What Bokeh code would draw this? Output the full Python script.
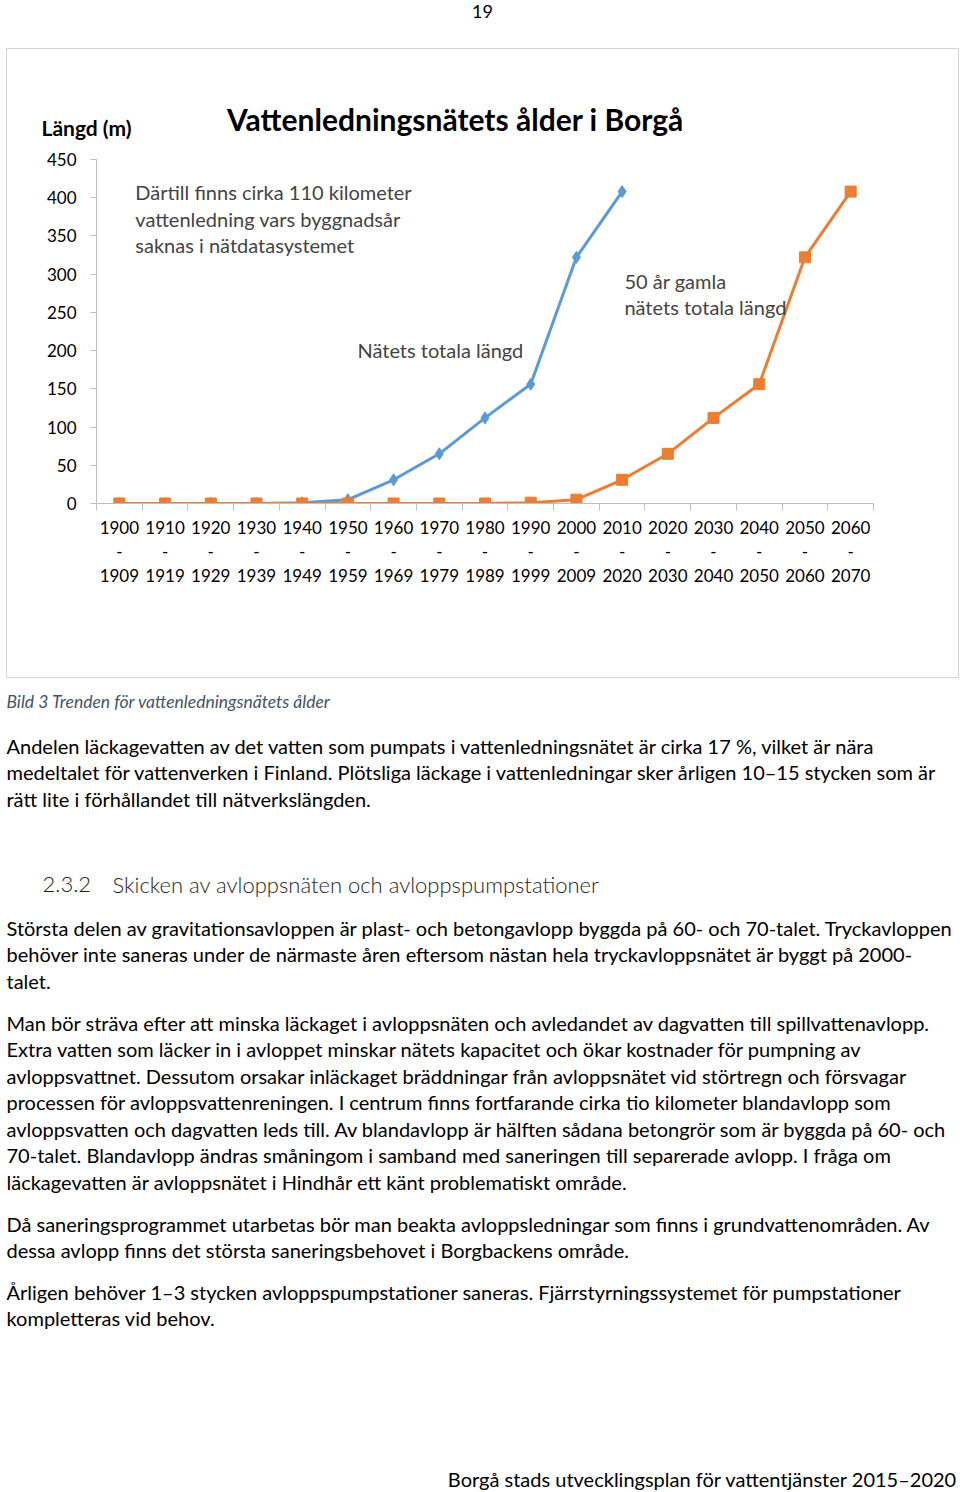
from bokeh.plotting import figure
from bokeh.layouts import column
from bokeh.models import Range1d, FixedTicker, Label
from bokeh.core.properties import value
from bokeh.embed import file_html
from bokeh.resources import INLINE

FONT = "Lato"

# ---------------- data ----------------
period_start = ["1900", "1910", "1920", "1930", "1940", "1950", "1960", "1970", "1980",
                "1990", "2000", "2010", "2020", "2030", "2040", "2050", "2060"]
period_end = ["1909", "1919", "1929", "1939", "1949", "1959", "1969", "1979", "1989",
              "1999", "2009", "2020", "2030", "2040", "2050", "2060", "2070"]
total_length = [0, 0, 0, 0, 1, 5, 31, 65, 112, 156, 322, 408]          # Nätets totala längd
old_50_length = [0, 0, 0, 0, 0, 0, 0, 0, 0, 1, 5, 31, 65, 112, 156, 322, 408]  # 50 år gamla
y_ticks = [0, 50, 100, 150, 200, 250, 300, 350, 400, 450]

chart_title = "Vattenledningsnätets ålder i Borgå"
y_title = "Längd (m)"
note_lines = ["Därtill finns cirka 110 kilometer", "vattenledning vars byggnadsår", "saknas i nätdatasystemet"]
total_label = "Nätets totala längd"
old_label = ["50 år gamla", "nätets totala längd"]

page_number = "19"
caption = "Bild 3 Trenden för vattenledningsnätets ålder"
para1 = ["Andelen läckagevatten av det vatten som pumpats i vattenledningsnätet är cirka 17 %, vilket är nära",
         "medeltalet för vattenverken i Finland. Plötsliga läckage i vattenledningar sker årligen 10–15 stycken som är",
         "rätt lite i förhållandet till nätverkslängden."]
heading_num = "2.3.2"
heading_text = "Skicken av avloppsnäten och avloppspumpstationer"
para2 = ["Största delen av gravitationsavloppen är plast- och betongavlopp byggda på 60- och 70-talet. Tryckavloppen",
         "behöver inte saneras under de närmaste åren eftersom nästan hela tryckavloppsnätet är byggt på 2000-",
         "talet."]
para3 = ["Man bör sträva efter att minska läckaget i avloppsnäten och avledandet av dagvatten till spillvattenavlopp.",
         "Extra vatten som läcker in i avloppet minskar nätets kapacitet och ökar kostnader för pumpning av",
         "avloppsvattnet. Dessutom orsakar inläckaget bräddningar från avloppsnätet vid störtregn och försvagar",
         "processen för avloppsvattenreningen. I centrum finns fortfarande cirka tio kilometer blandavlopp som",
         "avloppsvatten och dagvatten leds till. Av blandavlopp är hälften sådana betongrör som är byggda på 60- och",
         "70-talet. Blandavlopp ändras småningom i samband med saneringen till separerade avlopp. I fråga om",
         "läckagevatten är avloppsnätet i Hindhår ett känt problematiskt område."]
para4 = ["Då saneringsprogrammet utarbetas bör man beakta avloppsledningar som finns i grundvattenområden. Av",
         "dessa avlopp finns det största saneringsbehovet i Borgbackens område."]
para5 = ["Årligen behöver 1–3 stycken avloppspumpstationer saneras. Fjärrstyrningssystemet för pumpstationer",
         "kompletteras vid behov."]
footer = "Borgå stads utvecklingsplan för vattentjänster 2015–2020"

BLUE = "#5B9BD5"
ORANGE = "#ED7D31"
AXIS = "#BFBFBF"
BODY = "20px"


def blank(width, height, x0, x1, ytop, ybot):
    f = figure(width=width, height=height, x_range=Range1d(x0, x1), y_range=Range1d(ybot, ytop),
               x_axis_type=None, y_axis_type=None, output_backend="svg", toolbar_location=None,
               min_border=0, min_border_left=0, min_border_right=0, min_border_top=0,
               min_border_bottom=0, outline_line_color=None, frame_align=False)
    f.grid.visible = False
    return f


# ---------------- top strip (page number) ----------------
top = blank(960, 48, 0, 960, 0, 48)
top.text(x=[482], y=[11], text=[page_number], text_font=value(FONT), text_font_size="18px",
         text_align="center", text_baseline="middle", text_color="#000000")

# ---------------- chart header (title + y title) ----------------
header = blank(951, 92, 6, 957, 48, 140)
header.text(x=[454], y=[117], text=[chart_title], text_font=value(FONT), text_font_size="30px",
            text_font_style="bold", text_align="center", text_baseline="middle", text_color="#000000")
header.text(x=[40], y=[126], text=[y_title], text_font=value(FONT), text_font_size="21px",
            text_font_style="bold", text_align="left", text_baseline="middle", text_color="#000000")

# ---------------- chart ----------------
n = len(period_start)
chart = figure(width=951, height=536, x_range=Range1d(-0.5, n - 0.5), y_range=Range1d(0, 450),
               output_backend="svg", toolbar_location=None,
               min_border_left=89, min_border_right=85, min_border_top=18, min_border_bottom=174,
               outline_line_color=None, frame_align=False)
chart.grid.visible = False

xi = list(range(n))
chart.xaxis.ticker = FixedTicker(ticks=xi, minor_ticks=[i - 0.5 for i in range(n + 1)])
chart.xaxis.major_label_overrides = {i: f"{period_start[i]}\n-\n{period_end[i]}" for i in xi}
chart.xaxis.major_tick_out = 0
chart.xaxis.major_tick_in = 0
chart.xaxis.minor_tick_out = 7
chart.xaxis.minor_tick_in = 0
chart.xaxis.minor_tick_line_color = AXIS
chart.xaxis.axis_line_color = AXIS
chart.xaxis.major_label_standoff = 6
chart.xaxis.major_label_text_font = FONT
chart.xaxis.major_label_text_font_size = "17px"
chart.xaxis.major_label_text_color = "#000000"
chart.xaxis.major_label_text_line_height = 1.15

chart.yaxis.ticker = FixedTicker(ticks=y_ticks)
chart.yaxis.major_tick_out = 6
chart.yaxis.major_tick_in = 0
chart.yaxis.minor_tick_out = 0
chart.yaxis.minor_tick_in = 0
chart.yaxis.major_tick_line_color = AXIS
chart.yaxis.axis_line_color = AXIS
chart.yaxis.major_label_standoff = 14
chart.yaxis.major_label_text_font = FONT
chart.yaxis.major_label_text_font_size = "17px"
chart.yaxis.major_label_text_color = "#000000"

bx = xi[:len(total_length)]
chart.line(bx, total_length, line_color=BLUE, line_width=3)
chart.scatter(bx, total_length, marker="diamond", size=12, fill_color=BLUE, line_color=BLUE)
chart.line(xi, old_50_length, line_color=ORANGE, line_width=3)
chart.scatter(xi, old_50_length, marker="square", size=11, fill_color=ORANGE, line_color=ORANGE)

for k, t in enumerate(note_lines):
    chart.add_layout(Label(x=0.35, y=407.5 - k * 34.7, text=t, text_font=FONT, text_font_size="20px",
                           text_align="left", text_baseline="middle"))
chart.add_layout(Label(x=5.21, y=201.0, text=total_label, text_font=FONT, text_font_size="20px",
                       text_align="left", text_baseline="middle"))
for k, t in enumerate(old_label):
    chart.add_layout(Label(x=11.05, y=291.5 - k * 34.0, text=t, text_font=FONT, text_font_size="20px",
                           text_align="left", text_baseline="middle"))

box = column(header, chart, spacing=0, margin=(0, 0, 0, 6),
             styles={"border": "1px solid #D4D4D4"})

# ---------------- body text ----------------
body = blank(960, 812, 0, 960, 680, 1492)

LS = 26.5
LEFT = 6


def block(lines, y0, **kw):
    body.text(x=[LEFT] * len(lines), y=[y0 + k * LS for k in range(len(lines))], text=lines,
              text_font=value(FONT), text_font_size=BODY, text_baseline="middle",
              text_color="#000000", **kw)


body.text(x=[LEFT], y=[703], text=[caption], text_font=value(FONT), text_font_size="17.5px",
          text_font_style="italic", text_color="#44546A", text_baseline="middle")
block(para1, 747)
body.text(x=[42], y=[886], text=[heading_num], text_font=value("Lato Light, Lato"), text_font_size="22px",
          text_color="#1F1F1F", text_baseline="middle")
body.text(x=[112], y=[886], text=[heading_text], text_font=value("Lato Light, Lato"), text_font_size="22px",
          text_color="#1F1F1F", text_baseline="middle")
block(para2, 929)
block(para3, 1024)
block(para4, 1225)
block(para5, 1293)
body.text(x=[957], y=[1480], text=[footer], text_font=value(FONT), text_font_size=BODY,
          text_align="right", text_baseline="middle", text_color="#000000")

layout = column(top, box, body, spacing=0)
open("out.html", "w").write(file_html(layout, INLINE))
